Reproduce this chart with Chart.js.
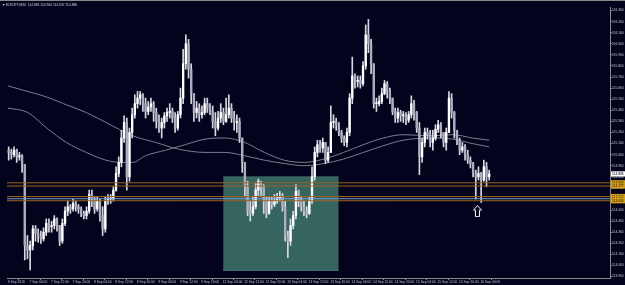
<!DOCTYPE html>
<html><head><meta charset="utf-8">
<script src="https://cdn.jsdelivr.net/npm/chart.js@4.4.1/dist/chart.umd.min.js"></script>
<style>html,body{margin:0;padding:0;background:#03031d;overflow:hidden}canvas{display:block}</style>
</head><body>
<canvas id="c" width="625" height="285"></canvas>
<script>
// ---- data ----
const headerText = 'EURJPY,M30  114.883 114.900 114.837 114.886';
const timeLabels = ['6 Sep 2016','7 Sep 04:00','7 Sep 12:00','7 Sep 20:00','8 Sep 04:00','8 Sep 12:00','8 Sep 20:00','9 Sep 04:00','9 Sep 12:00','9 Sep 20:00','12 Sep 04:00','12 Sep 12:00','12 Sep 20:00','13 Sep 04:00','13 Sep 12:00','13 Sep 20:00','14 Sep 04:00','14 Sep 12:00','14 Sep 20:00','15 Sep 04:00','15 Sep 12:00','15 Sep 20:00','16 Sep 04:00'];
const timeTickBars = [0,16,32,48,64,80,96,112,128,144,160,176,192,208,224,240,256,272,288,304,320,336,352];
const priceTicks = [113.96,114.06,114.16,114.26,114.36,114.46,114.56,114.66,114.76,114.86,114.96,115.06,115.16,115.26,115.36,115.46,115.56,115.66,115.76,115.86,115.96,116.06,116.16,116.26,116.36];
const firstOpen = 115.10;
const closes = [
115.08,115.06,115.10,115.04,115.05,114.97,114.24,114.20,114.24,114.39,
114.35,114.32,114.30,114.36,114.44,114.41,114.42,114.48,114.42,114.28,
114.44,114.55,114.59,114.57,114.62,114.59,114.57,114.53,114.51,114.55,
114.70,114.66,114.57,114.64,114.51,114.39,114.64,114.66,114.66,114.74,
114.89,114.99,115.21,115.35,114.86,115.26,115.42,115.52,115.57,115.60,
115.52,115.45,115.49,115.52,115.44,115.36,115.30,115.35,115.41,115.44,
115.45,115.39,115.30,115.42,115.57,115.88,116.06,115.83,115.61,115.44,
115.48,115.42,115.44,115.52,115.48,115.45,115.36,115.30,115.39,115.44,
115.36,115.42,115.48,115.39,115.35,115.36,115.21,114.99,114.77,114.55,
114.53,114.59,114.74,114.82,114.77,114.64,114.53,114.64,114.61,114.64,
114.67,114.68,114.59,114.33,114.28,114.42,114.51,114.73,114.66,114.59,
114.55,114.53,114.64,114.86,115.08,115.15,115.12,115.17,115.01,115.08,
115.35,115.36,115.33,115.26,115.21,115.17,115.26,115.57,115.77,115.72,
115.73,115.70,115.86,116.14,116.06,115.88,115.52,115.52,115.54,115.61,
115.70,115.63,115.57,115.45,115.39,115.44,115.41,115.41,115.37,115.42,
115.52,115.44,115.30,115.04,115.17,115.26,115.24,115.17,115.21,115.29,
115.33,115.26,115.17,115.26,115.57,115.44,115.28,115.19,115.10,115.13,
115.06,115.01,114.98,114.90,114.86,114.89,114.83,114.95,114.86,114.886];
const highs = [
115.13,115.11,115.13,115.11,115.08,115.06,114.97,114.33,114.28,114.42,
114.42,114.39,114.37,114.40,114.48,114.48,114.46,114.51,114.49,114.42,
114.48,114.59,114.64,114.61,114.66,114.64,114.61,114.59,114.55,114.59,
114.74,114.74,114.68,114.68,114.66,114.59,114.68,114.70,114.70,114.77,
114.95,115.04,115.28,115.41,115.39,115.30,115.48,115.60,115.63,115.63,
115.61,115.57,115.54,115.57,115.54,115.48,115.42,115.39,115.44,115.48,
115.52,115.48,115.44,115.45,115.66,116.01,116.14,116.10,115.88,115.61,
115.54,115.52,115.50,115.57,115.57,115.52,115.50,115.44,115.45,115.52,
115.48,115.57,115.60,115.52,115.45,115.42,115.39,115.21,114.99,114.82,
114.64,114.68,114.80,114.84,114.82,114.79,114.68,114.68,114.68,114.70,
114.71,114.73,114.71,114.64,114.37,114.48,114.55,114.79,114.74,114.68,
114.64,114.59,114.68,114.95,115.13,115.19,115.19,115.21,115.17,115.13,
115.50,115.42,115.39,115.35,115.28,115.23,115.30,115.61,115.94,115.79,
115.77,115.77,115.90,116.23,116.28,116.10,115.88,115.57,115.59,115.66,
115.73,115.72,115.66,115.57,115.48,115.48,115.46,115.45,115.44,115.45,
115.59,115.55,115.45,115.35,115.21,115.30,115.30,115.28,115.28,115.33,
115.37,115.35,115.26,115.30,115.63,115.61,115.45,115.28,115.21,115.17,
115.15,115.10,115.04,114.99,114.92,114.95,114.90,115.01,114.99,114.92];
const lows = [
115.01,115.02,115.04,114.99,115.01,114.90,114.11,114.12,114.02,114.20,
114.28,114.27,114.26,114.28,114.33,114.36,114.36,114.39,114.37,114.24,
114.26,114.42,114.51,114.53,114.55,114.55,114.53,114.50,114.48,114.48,
114.53,114.59,114.53,114.55,114.46,114.33,114.36,114.61,114.62,114.64,
114.73,114.86,114.95,115.17,114.74,114.82,115.21,115.39,115.48,115.51,
115.45,115.39,115.42,115.45,115.36,115.30,115.26,115.21,115.30,115.36,
115.39,115.35,115.26,115.28,115.39,115.52,115.83,115.75,115.52,115.36,
115.39,115.36,115.39,115.42,115.44,115.42,115.30,115.23,115.28,115.35,
115.33,115.35,115.39,115.35,115.28,115.26,115.17,114.90,114.68,114.51,
114.46,114.51,114.57,114.68,114.68,114.53,114.49,114.52,114.57,114.59,
114.62,114.64,114.55,114.28,114.13,114.24,114.39,114.48,114.59,114.55,
114.51,114.49,114.52,114.62,114.83,115.04,115.08,115.08,114.98,114.99,
115.08,115.30,115.28,115.23,115.17,115.14,115.13,115.23,115.52,115.66,
115.67,115.66,115.68,115.83,115.98,115.79,115.48,115.45,115.50,115.52,
115.60,115.57,115.52,115.42,115.35,115.35,115.36,115.35,115.33,115.35,
115.39,115.37,115.26,114.88,114.99,115.13,115.20,115.13,115.10,115.19,
115.26,115.21,115.13,115.10,115.26,115.39,115.21,115.15,115.06,115.08,
115.01,114.98,114.94,114.86,114.66,114.83,114.63,114.82,114.77,114.83];
// moving averages (x in M30 bar index)
const ma1X = [0,14.8,28.8,43.5,58.3,73,84,93,102.5,117.3,132,146.8,161.5,176.3,191,205.8,220.6,235.3,250,264.8,279.6,294.3,316.5,331.2,346,358.5];
const ma1Y = [115.48,115.44,115.30,115.17,115.08,115.01,114.99,114.99,115.05,115.10,115.15,115.20,115.21,115.17,115.08,115.01,114.99,115.02,115.08,115.15,115.21,115.24,115.23,115.24,115.21,115.19];
const ma2X = [0,14.8,28.8,41.3,58.3,73,93,110,127,146.8,161.5,176.3,191,205.8,220.6,235.3,250,264.8,279.6,294.3,316.5,331.2,346,358.5];
const ma2Y = [115.68,115.63,115.58,115.52,115.44,115.35,115.23,115.17,115.11,115.08,115.08,115.05,115.01,114.98,114.96,114.98,115.02,115.08,115.14,115.19,115.21,115.20,115.16,115.13];
const levels = [114.806,114.777,114.682,114.662,114.644];
const levelColors = ['#9a6422','#9a6422','#9a6422','#7f9fd0','#9a6422'];
const zoneX = [160.3,246.4];
const zoneY = [114.015,114.859];
const arrowX = 349.7, arrowY = 114.55;
const lastPrice = 114.886;

// ---- styling / build ----
const BG = '#03031d';
const FONT = 'Liberation Sans';
const opens = closes.map((c,k)=> k===0 ? firstOpen : closes[k-1]);
const xOf = k => 2*k + 0.5;
const wickData = closes.map((c,k)=>({x:xOf(k), y:[Math.min(lows[k],opens[k],c), Math.max(highs[k],opens[k],c)]}));
const bodyData = closes.map((c,k)=>({x:xOf(k), y:[opens[k], c]}));
const bodyColors = closes.map((c,k)=> c>=opens[k] ? '#ffffff' : '#aeaec0');

const arrowCanvas = document.createElement('canvas');
arrowCanvas.width = 9; arrowCanvas.height = 12;
(function(){const a=arrowCanvas.getContext('2d');a.beginPath();a.moveTo(4.5,0.5);a.lineTo(8.5,5);a.lineTo(6.5,5);a.lineTo(6.5,11.5);a.lineTo(2.5,11.5);a.lineTo(2.5,5);a.lineTo(0.5,5);a.closePath();a.fillStyle=BG;a.fill();a.strokeStyle='#ffffff';a.lineWidth=1;a.stroke();})();

const datasets = [];
datasets.push({type:'line', data:[{x:zoneX[0],y:zoneY[1]},{x:zoneX[1],y:zoneY[1]}], borderColor:'#44736f', borderWidth:1, backgroundColor:'#36645f', fill:'+1', pointRadius:0, order:20});
datasets.push({type:'line', data:[{x:zoneX[0],y:zoneY[0]},{x:zoneX[1],y:zoneY[0]}], borderColor:'#44736f', borderWidth:1, fill:false, pointRadius:0, order:19});
datasets.push({type:'line', data:ma1X.map((x,i)=>({x, y:ma1Y[i]})), borderColor:'#7c7c8e', borderWidth:1, pointRadius:0, tension:0.4, cubicInterpolationMode:'monotone', fill:false, order:10});
datasets.push({type:'line', data:ma2X.map((x,i)=>({x, y:ma2Y[i]})), borderColor:'#7c7c8e', borderWidth:1, pointRadius:0, tension:0.4, cubicInterpolationMode:'monotone', fill:false, order:10});
datasets.push({type:'bar', data:wickData, backgroundColor:'#d8d8e2', barThickness:1, grouped:false, borderWidth:0, order:3});
datasets.push({type:'bar', data:bodyData, backgroundColor:bodyColors, barThickness:1.7, grouped:false, borderWidth:0, minBarLength:1, order:2});
levels.forEach((v,i)=>datasets.push({type:'line', data:[{x:-2,y:v},{x:450,y:v}], borderColor:levelColors[i], borderWidth:1, pointRadius:0, fill:false, order:1}));
datasets.push({type:'scatter', data:[{x:arrowX,y:arrowY}], pointStyle:arrowCanvas, pointRadius:6, order:0});

const decor = {
  id:'decor',
  beforeDraw(ch){const c=ch.ctx;c.save();c.fillStyle=BG;c.fillRect(0,0,ch.width,ch.height);c.fillStyle='#8a8a8a';c.fillRect(0,0,ch.width,1);c.restore();},
  afterDraw(ch){
    const c=ch.ctx, y=ch.scales.y, L=ch.chartArea.right;
    c.save();
    c.font='3.3px '+FONT; c.textBaseline='middle';
    levels.forEach(v=>{const py=y.getPixelForValue(v);c.fillStyle='#d4a01c';c.fillRect(L+1,py-2.6,14,5.2);c.fillStyle='#1a1400';c.fillText(v.toFixed(3),L+2,py+0.2);});
    const pp=y.getPixelForValue(lastPrice);
    c.fillStyle='#ffffff';c.fillRect(L+1,pp-2.6,14,5.2);c.fillStyle='#000000';c.fillText(lastPrice.toFixed(3),L+2,pp+0.2);
    c.fillStyle='#d0d0d8';c.font='3.3px '+FONT;c.fillText('\u25BC',2,4.6);c.fillText(headerText,6,4.6);
    c.restore();
  }
};

new Chart(document.getElementById('c'), {
  type:'bar',
  data:{datasets},
  options:{
    responsive:false, animation:false, devicePixelRatio:1,
    layout:{padding:{top:2,left:0,right:0,bottom:0}},
    plugins:{legend:{display:false}, tooltip:{enabled:false}},
    scales:{
      x:{type:'linear', min:-0.74, max:448.5, offset:false, position:'bottom',
        afterBuildTicks:s=>{s.ticks=timeTickBars.map(v=>({value:v}));},
        afterFit:s=>{s.height=7;},
        ticks:{autoSkip:false, maxRotation:0, minRotation:0, align:'start', padding:0, color:'#c4c4cc', font:{size:3.3, family:FONT}, callback:(v,i)=>timeLabels[i]},
        grid:{drawOnChartArea:false, tickLength:2, color:'#8a8a8a'}, border:{color:'#8a8a8a'}},
      y:{type:'linear', position:'right', min:113.947, max:116.392,
        afterBuildTicks:s=>{s.ticks=priceTicks.map(v=>({value:v}));},
        afterFit:s=>{s.width=15;},
        ticks:{padding:0, color:'#c4c4cc', font:{size:3.3, family:FONT}, callback:v=>Number(v).toFixed(3)},
        grid:{drawOnChartArea:false, tickLength:2, color:'#8a8a8a'}, border:{color:'#8a8a8a'}}
    }
  },
  plugins:[decor]
});
</script>
</body></html>
